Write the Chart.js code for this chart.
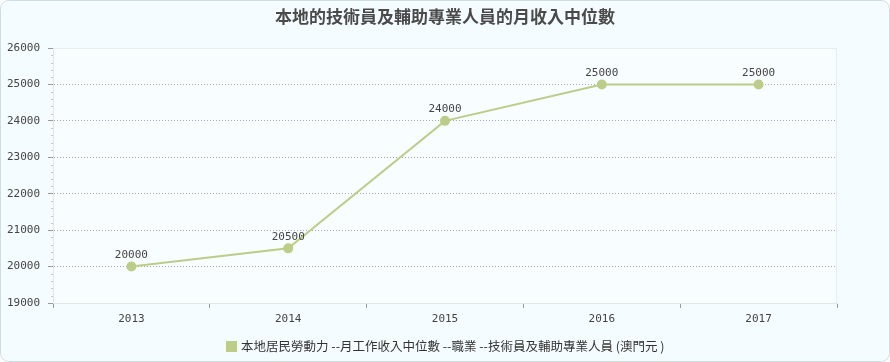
<!DOCTYPE html>
<html>
<head>
<meta charset="utf-8">
<script src="https://cdn.jsdelivr.net/npm/chart.js@4/dist/chart.umd.min.js"></script>
<style>
  html, body { margin: 0; padding: 0; background: #ffffff; }
  #wrap { position: relative; width: 890px; height: 362px; }
</style>
</head>
<body>
<div id="wrap"><canvas id="medianChart" width="890" height="362"></canvas></div>
<script>
//data arrays
let years = ['2013', '2014', '2015', '2016', '2017'];
let medianIncome = [20000, 20500, 24000, 25000, 25000];
let yTicks = [19000, 20000, 21000, 22000, 23000, 24000, 25000, 26000];

let chartTitle = '本地的技術員及輔助專業人員的月收入中位數';
let seriesLabel = '本地居民勞動力 --月工作收入中位數 --職業 --技術員及輔助專業人員 (澳門元 )';

const monoFont = '"DejaVu Sans Mono", monospace';
const lineColor = 'rgb(188, 205, 138)';

//background, frame, title, legend, minor ticks and point labels
const decorPlugin = {
    id: 'decor',
    beforeDraw(chart) {
        const ctx = chart.ctx;
        const w = chart.width, h = chart.height;
        ctx.save();
        ctx.fillStyle = '#f5fcff';
        ctx.strokeStyle = '#cfdde3';
        ctx.lineWidth = 1;
        ctx.beginPath();
        ctx.roundRect(0.5, 0.5, w - 1, h - 1, 8);
        ctx.fill();
        ctx.stroke();

        const a = chart.chartArea;
        ctx.fillStyle = '#f8fdff';
        ctx.fillRect(a.left, a.top, a.right - a.left, a.bottom - a.top);
        ctx.strokeStyle = '#e6edf0';
        ctx.strokeRect(a.left + 0.5, a.top + 0.5, a.right - a.left - 1, a.bottom - a.top);
        ctx.restore();
    },
    afterDraw(chart) {
        const ctx = chart.ctx;
        const a = chart.chartArea;
        const y = chart.scales.y;
        ctx.save();

        //minor ticks
        ctx.strokeStyle = '#c8c8c8';
        ctx.lineWidth = 1;
        for (let v = yTicks[0]; v < yTicks[yTicks.length - 1]; v += 200) {
            if (v % 1000 === 0) continue;
            const py = Math.round(y.getPixelForValue(v)) + 0.5;
            ctx.beginPath();
            ctx.moveTo(a.left - 2, py);
            ctx.lineTo(a.left, py);
            ctx.stroke();
        }

        //title
        ctx.fillStyle = '#4a4a4a';
        ctx.font = 'bold 17px "Noto Sans CJK TC", sans-serif';
        ctx.textAlign = 'center';
        ctx.textBaseline = 'middle';
        ctx.fillText(chartTitle, chart.width / 2, 17);

        //point labels
        const meta = chart.getDatasetMeta(0);
        ctx.font = '11px ' + monoFont;
        ctx.fillStyle = '#444';
        ctx.textBaseline = 'bottom';
        meta.data.forEach((pt, i) => {
            ctx.fillText(String(medianIncome[i]), pt.x, pt.y - 6);
        });

        //legend
        ctx.font = '12.5px "Noto Sans CJK TC", sans-serif';
        const tw = ctx.measureText(seriesLabel).width;
        const total = 11 + 4 + tw;
        const lx = Math.round(chart.width / 2 - total / 2);
        const ly = 346;
        ctx.fillStyle = lineColor;
        ctx.fillRect(lx, ly - 5, 11, 11);
        ctx.fillStyle = '#333';
        ctx.textAlign = 'left';
        ctx.textBaseline = 'middle';
        ctx.fillText(seriesLabel, lx + 15, ly);
        ctx.restore();
    }
};

let data = {
    labels: years,
    datasets: [{
        label: seriesLabel,
        data: medianIncome,
        borderColor: lineColor,
        backgroundColor: lineColor,
        borderWidth: 2,
        pointRadius: 4,
        pointHoverRadius: 4,
        tension: 0,
        fill: false
    }]
};

let config = {
    type: 'line',
    data: data,
    plugins: [decorPlugin],
    options: {
        responsive: false,
        animation: false,
        layout: {
            padding: { top: 48, right: 53, bottom: 0, left: 0 }
        },
        plugins: {
            legend: { display: false },
            title: { display: false },
            tooltip: { enabled: false }
        },
        scales: {
            x: {
                type: 'category',
                offset: true,
                grid: {
                    offset: true,
                    drawOnChartArea: false,
                    drawTicks: true,
                    tickLength: 5,
                    color: '#9a9a9a'
                },
                border: { display: true, color: '#e0e6e9' },
                ticks: {
                    color: '#444',
                    font: { family: monoFont, size: 11 },
                    padding: 5
                },
                afterFit(scale) { scale.height = 59; }
            },
            y: {
                min: yTicks[0],
                max: yTicks[yTicks.length - 1],
                afterBuildTicks(scale) {
                    scale.ticks = yTicks.map((v) => ({ value: v }));
                },
                grid: {
                    color: (c) => (c.tick && c.tick.value === yTicks[yTicks.length - 1]) ? 'rgba(0,0,0,0)' : '#a8a8a8',
                    tickColor: '#9a9a9a',
                    tickBorderDash: [],
                    tickLength: 5,
                    lineWidth: 1
                },
                border: { display: true, color: '#e0e6e9', dash: [1, 2] },
                ticks: {
                    color: '#444',
                    font: { family: monoFont, size: 11 },
                    padding: 8,
                    callback: (v) => String(v)
                },
                afterFit(scale) { scale.width = 53; }
            }
        }
    }
};

new Chart(document.getElementById('medianChart'), config);
</script>
</body>
</html>
